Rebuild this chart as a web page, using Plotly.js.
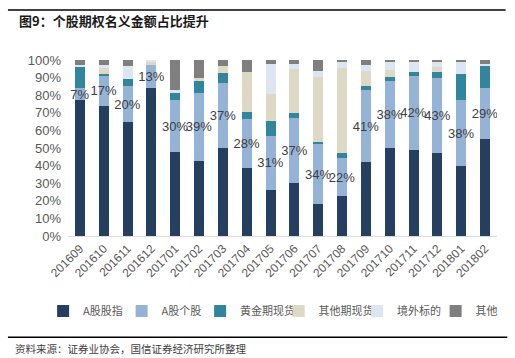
<!DOCTYPE html>
<html>
<head>
<meta charset="utf-8">
<script src="https://cdn.plot.ly/plotly-3.0.1.min.js"></script>
<style>html,body{margin:0;padding:0;background:#fff;}#chart{width:515px;height:358px;}</style>
</head>
<body>
<div id="chart"></div>
<script>
var categories = ['201609','201610','201611','201612','201701','201702','201703','201704','201705','201706','201707','201708','201709','201710','201711','201712','201801','201802'];
var aIndex   = [77, 74, 65, 84, 47.5, 42.5, 50, 38.4, 26, 30, 18, 22.5, 42, 50, 49, 47, 39.5, 55];
var aStock   = [7, 17, 20, 13, 30, 39, 37, 28, 31, 37, 34, 22, 41, 38, 42, 43, 38, 29];
var gold     = [12, 1, 4, 0.3, 4, 6.5, 5.5, 4.2, 8.5, 3, 1.5, 2.5, 2.5, 2.5, 2, 3, 14.5, 12.5];
var otherFut = [0, 3.5, 0, 1.5, 0, 2, 4, 22.6, 15, 25, 37, 48.5, 8.5, 4, 0, 3, 0, 0];
var overseas = [1, 1.5, 7.5, 1.2, 1.5, 0, 0, 0, 17, 3, 3, 3.5, 3, 4.5, 6, 3, 7, 1];
var others   = [3, 3, 3.5, 0, 17, 10, 3.5, 6.8, 2.5, 2, 6.5, 1, 3, 1, 1, 1, 1, 2.5];
var stockLabels = aStock.map(function(v){ return v + '%'; });
var seriesNames = ['A股股指','A股个股','黄金期现货','其他期现货','境外标的','其他'];
var colors = ['#243F60','#95B3D7','#31859C','#DDD9C4','#DCE6F2','#7F7F7F'];
var series = [aIndex, aStock, gold, otherFut, overseas, others];

var font = 'Arial, "Liberation Sans", "Noto Sans CJK SC", sans-serif';
var cjk = '"Noto Sans CJK SC", sans-serif';

var traces = series.map(function(vals, i){
  var t = {
    type: 'bar', x: categories, y: vals, name: seriesNames[i],
    marker: {color: colors[i], line: {width: 0}},
    hoverinfo: 'none'
  };
  if (i === 1) {
    t.text = stockLabels;
    t.textposition = 'inside';
    t.insidetextanchor = 'middle';
    t.constraintext = 'none';
    t.textangle = 0;
    t.insidetextfont = {family: font, size: 13, color: '#404040'};
  }
  return t;
});

var layout = {
  width: 515, height: 358,
  margin: {l: 68, r: 18, t: 60, b: 122},
  barmode: 'stack',
  bargap: 0.58,
  paper_bgcolor: '#ffffff', plot_bgcolor: '#ffffff',
  showlegend: true,
  legend: {orientation: 'h', x: -0.058, xanchor: 'left', y: -0.426, yanchor: 'middle',
           font: {family: cjk, size: 11, color: '#595959'}, itemwidth: 30, traceorder: 'normal',
           entrywidth: 33.5, entrywidthmode: 'pixels', bgcolor: 'rgba(0,0,0,0)'},
  xaxis: {type: 'category', tickangle: -45, tickfont: {family: font, size: 12, color: '#595959'}, automargin: false,
          showline: true, linecolor: '#D9D9D9', linewidth: 1, ticks: '', showgrid: false, zeroline: false},
  yaxis: {range: [0, 100], dtick: 10, ticksuffix: '%', tickfont: {family: font, size: 13, color: '#595959'}, automargin: false,
          ticklabelstandoff: 6,
          showgrid: false, zeroline: false, showline: false, ticks: ''},
  shapes: [
    {type: 'line', xref: 'paper', yref: 'paper', layer: 'above', x0: -0.140, x1: 1.02, y0: 1.284, y1: 1.284, line: {color: '#000000', width: 1.5}},
    {type: 'line', xref: 'paper', yref: 'paper', layer: 'above', x0: -0.140, x1: 1.024, y0: -0.575, y1: -0.575, line: {color: '#000000', width: 1.5}}
  ],
  annotations: [
    {xref: 'paper', yref: 'paper', x: -0.119, y: 1.227, xanchor: 'left', yanchor: 'middle', showarrow: false,
     text: '<b>图9：个股期权名义金额占比提升</b>', font: {family: cjk, size: 13, color: '#1a1a1a'}},
    {xref: 'paper', yref: 'paper', x: -0.128, y: -0.64, xanchor: 'left', yanchor: 'middle', showarrow: false,
     text: '资料来源：证券业协会，国信证券经济研究所整理', font: {family: cjk, size: 10.5, color: '#404040'}}
  ]
};

Plotly.newPlot('chart', traces, layout, {displayModeBar: false, staticPlot: true});
</script>
</body>
</html>
